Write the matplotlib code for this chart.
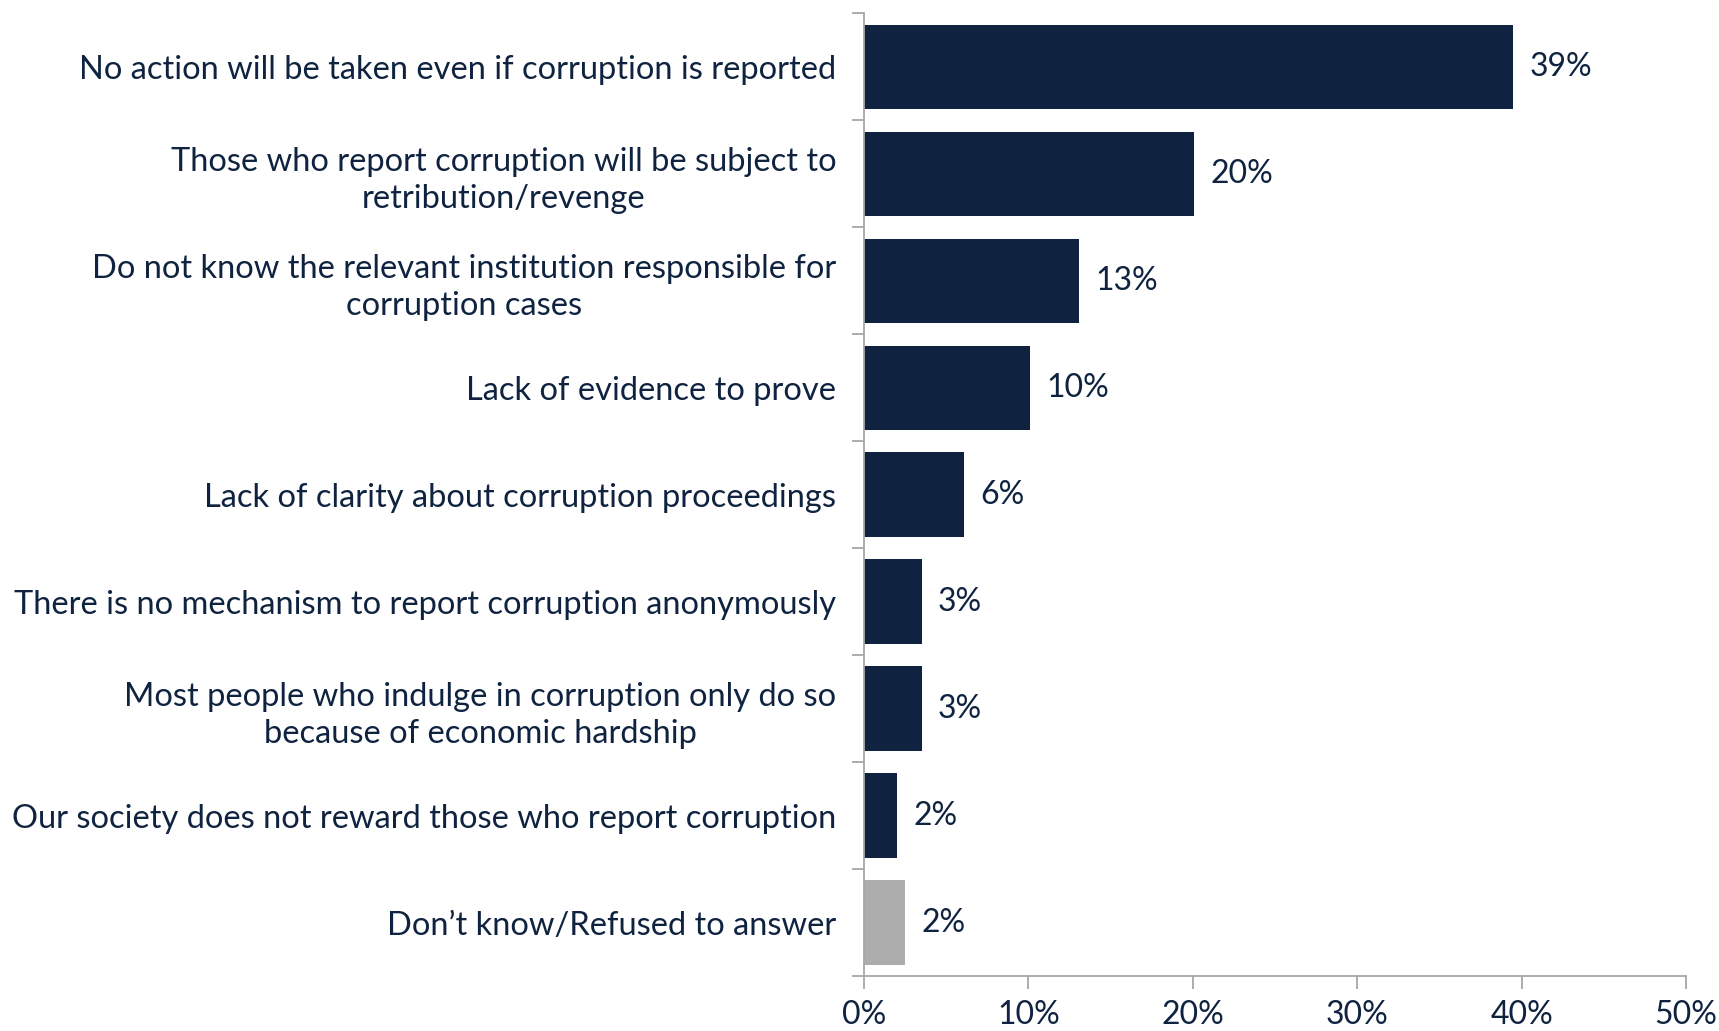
import matplotlib.pyplot as plt

categories = [
    'No action will be taken even if corruption is reported',
    'Those who report corruption will be subject to\nretribution/revenge',
    'Do not know the relevant institution responsible for\ncorruption cases',
    'Lack of evidence to prove',
    'Lack of clarity about corruption proceedings',
    'There is no mechanism to report corruption anonymously',
    'Most people who indulge in corruption only do so\nbecause of economic hardship',
    'Our society does not reward those who report corruption',
    'Don\u2019t know/Refused to answer',
]
values = [39.5, 20.1, 13.1, 10.1, 6.1, 3.5, 3.5, 2.0, 2.5]
value_labels = ['39%', '20%', '13%', '10%', '6%', '3%', '3%', '2%', '2%']
xticks = [0, 10, 20, 30, 40, 50]

navy = '#0F2340'
grey = '#ADADAD'
colors = [navy] * 8 + [grey]

plt.rcParams['font.family'] = ['Lato', 'DejaVu Sans']

fig = plt.figure(figsize=(17.19, 10.31), dpi=100)
ax = fig.add_axes([0.5026, 0.0533, 0.4782, 0.9337])

n = len(categories)
ypos = list(range(n))
ax.barh(ypos, values, height=0.79, color=colors)
ax.set_ylim(n - 0.5, -0.5)
ax.set_xlim(0, 50)

for y, v, lab in zip(ypos, values, value_labels):
    ax.text(v + 1.0, y, lab, va='center', ha='left', fontsize=23, color=navy)

# category labels, multi-line ones centred on each other
ax.set_yticks(ypos)
ax.set_yticklabels(categories, fontsize=23.5, color=navy, linespacing=1.3)
for t in ax.get_yticklabels():
    t.set_ha('right')
    t.set_multialignment('center')
ax.tick_params(axis='y', length=0, pad=20)

# boundary tick marks on y axis
ax.set_yticks([i - 0.5 for i in range(n + 1)], minor=True)
ax.tick_params(axis='y', which='minor', length=9, color='#A6A6A6', width=1.3)

ax.set_xticks(xticks)
ax.set_xticklabels([f'{x}%' for x in xticks], fontsize=23, color=navy)
ax.tick_params(axis='x', length=9, color='#A6A6A6', width=1.3, pad=8)

for s in ['top', 'right']:
    ax.spines[s].set_visible(False)
for s in ['left', 'bottom']:
    ax.spines[s].set_color('#A6A6A6')
    ax.spines[s].set_linewidth(1.3)

fig.savefig('out.png', dpi=100)
